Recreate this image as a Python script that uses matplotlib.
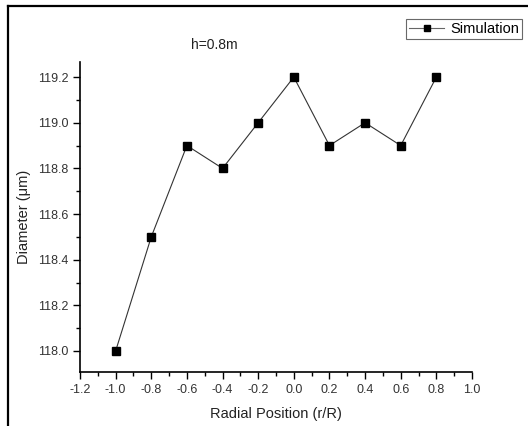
import matplotlib
matplotlib.use("Agg")
import matplotlib.pyplot as plt
from matplotlib.lines import Line2D
from matplotlib.ticker import MultipleLocator

plt.rcParams['font.family'] = ['Liberation Sans', 'DejaVu Sans']

radial = [-1.0, -0.8, -0.6, -0.4, -0.2, 0.0, 0.2, 0.4, 0.6, 0.8]
diameter = [118.0, 118.5, 118.9, 118.8, 119.0, 119.2, 118.9, 119.0, 118.9, 119.2]
xticks = [-1.2, -1.0, -0.8, -0.6, -0.4, -0.2, 0.0, 0.2, 0.4, 0.6, 0.8, 1.0]
yticks = [118.0, 118.2, 118.4, 118.6, 118.8, 119.0, 119.2]

fig = plt.figure(figsize=(5.28, 4.26), dpi=100)
ax = fig.add_axes([80/528, 1-372/426, 392/528, 310/426])

ax.plot(radial, diameter, color='#333333', lw=0.8, marker='s', ms=5.5,
        mfc='black', mec='black', label='Simulation')

ax.set_xlim(-1.2, 1.0)
ax.set_ylim(117.908, 119.266)
ax.set_xticks(xticks)
ax.set_xticklabels([f"{t:.1f}" for t in xticks])
ax.set_yticks(yticks)
ax.set_yticklabels([f"{t:.1f}" for t in yticks])
ax.xaxis.set_minor_locator(MultipleLocator(0.1))
ax.yaxis.set_minor_locator(MultipleLocator(0.1))
ax.tick_params(which='major', direction='out', length=5, width=1, labelsize=9, colors='black', labelcolor='#333333')
ax.tick_params(which='minor', direction='out', length=3, width=1)
for s in ['top', 'right']:
    ax.spines[s].set_visible(False)
for s in ['left', 'bottom']:
    ax.spines[s].set_linewidth(1.2)

ax.set_xlabel('Radial Position (r/R)', fontsize=10.5, color='#222222', labelpad=8)
ax.set_ylabel('Diameter (μm)', fontsize=10.5, color='#222222', labelpad=5)

fig.text(214/528, 1-45/426, 'h=0.8m', fontsize=10, ha='center', va='center', color='#222222')

leg = fig.legend(loc='upper right', bbox_to_anchor=(522/528, 1-19/426), fontsize=10.5,
                 frameon=True, fancybox=False, handlelength=2.4, borderpad=0.2,
                 handletextpad=0.4, borderaxespad=0, markerscale=0.75)
leg.get_frame().set_edgecolor('#444444')
leg.get_frame().set_linewidth(0.8)
for h in leg.legend_handles:
    h.set_color('#666666')
    h.set_markerfacecolor('black')
    h.set_markeredgecolor('black')

fig.add_artist(Line2D([8/528, 8/528], [0, 1-6/426], transform=fig.transFigure, color='black', lw=1.6))
fig.add_artist(Line2D([8/528, 1], [1-6/426, 1-6/426], transform=fig.transFigure, color='black', lw=1.6))

fig.savefig('out.png', dpi=100)
